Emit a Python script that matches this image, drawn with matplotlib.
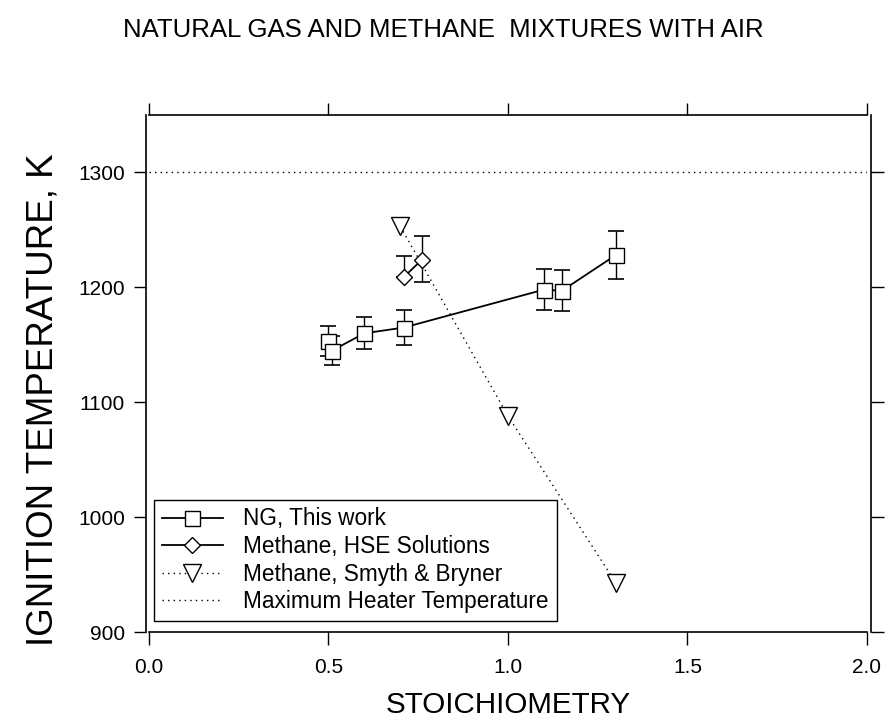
import matplotlib
matplotlib.use("Agg")
import matplotlib.pyplot as plt

plt.rcParams['font.family'] = ['Liberation Sans', 'DejaVu Sans']

# NG, This work
ng_x = [0.50, 0.51, 0.60, 0.71, 1.10, 1.15, 1.30]
ng_y = [1153, 1145, 1160, 1165, 1198, 1197, 1228]
ng_err = [13, 13, 14, 15, 18, 18, 21]

# Methane, HSE Solutions
hse_x = [0.71, 0.76]
hse_y = [1209, 1224]
hse_err_lo = [0, 19]
hse_err_hi = [18, 21]

# Methane, Smyth & Bryner
sb_x = [0.70, 1.00, 1.30]
sb_y = [1253, 1088, 943]

heater_T = 1300

title = "NATURAL GAS AND METHANE  MIXTURES WITH AIR"
xlabel = "STOICHIOMETRY"
ylabel = "IGNITION TEMPERATURE, K"
xticks = [0.0, 0.5, 1.0, 1.5, 2.0]
xticklabels = ["0.0", "0.5", "1.0", "1.5", "2.0"]
yticks = [900, 1000, 1100, 1200, 1300]

W, H = 887, 727
fig = plt.figure(figsize=(W / 100, H / 100), dpi=100)
ax = fig.add_axes([149 / W, 1 - 632 / H, (867 - 149) / W, (632 - 115) / H])

ax.set_xlim(0, 2)
ax.set_ylim(900, 1350)

# heater line
ax.axhline(heater_T, color='black', lw=1.0, ls=(0, (1, 3)),
           label='Maximum Heater Temperature', zorder=1)

# error bars
ax.errorbar(ng_x, ng_y, yerr=ng_err, fmt='none', ecolor='black',
            elinewidth=1.0, capsize=6, capthick=1.2, zorder=2)
ax.errorbar(hse_x, hse_y, yerr=[hse_err_lo, hse_err_hi], fmt='none',
            ecolor='black', elinewidth=1.0, capsize=6, capthick=1.2, zorder=2)

ax.plot(sb_x, sb_y, color='black', lw=1.0, ls=(0, (1, 3)), marker='v',
        markersize=13.5, markerfacecolor='white', markeredgecolor='black',
        markeredgewidth=1.0, label='Methane, Smyth & Bryner', zorder=3)
ax.plot(hse_x, hse_y, color='black', lw=1.3, marker='D', markersize=8.5,
        markerfacecolor='white', markeredgecolor='black', markeredgewidth=1.0,
        label='Methane, HSE Solutions', zorder=4)
ax.plot(ng_x, ng_y, color='black', lw=1.3, marker='s', markersize=10.8,
        markerfacecolor='white', markeredgecolor='black', markeredgewidth=1.0,
        label='NG, This work', zorder=5)

# spines
for s in ['left', 'right', 'top', 'bottom']:
    ax.spines[s].set_linewidth(1.2)
ax.spines['left'].set_position(('outward', 2.2))
ax.spines['right'].set_position(('outward', 2.9))

ax.set_xticks(xticks)
ax.set_xticklabels(xticklabels)
ax.set_yticks(yticks)
ax.tick_params(axis='both', direction='out', length=9, width=1.0,
               labelsize=15, top=True, right=True)
ax.tick_params(axis='y', pad=6)
ax.tick_params(axis='x', pad=10)

ax.set_xlabel(xlabel, fontsize=21.3, labelpad=10)
ax.set_ylabel(ylabel, fontsize=26.5, labelpad=8)
ax.yaxis.set_label_coords(-(149 - 61) / 718, (632 - 400) / 517)
fig.text(0.5, 1 - 30 / H, title, ha='center', va='center', fontsize=18.5)

handles, labels = ax.get_legend_handles_labels()
order = ['NG, This work', 'Methane, HSE Solutions', 'Methane, Smyth & Bryner',
         'Maximum Heater Temperature']
hmap = dict(zip(labels, handles))
leg = ax.legend([hmap[k] for k in order], order, loc='lower left',
                bbox_to_anchor=(5 / 718, 11 / 517), fontsize=16.3,
                frameon=True, fancybox=False, framealpha=1, edgecolor='black',
                numpoints=1, handlelength=2.7, handletextpad=0.9,
                labelspacing=0.2, borderpad=0.35, borderaxespad=0)
leg.get_frame().set_linewidth(1.0)

fig.savefig('out.png', dpi=100)
